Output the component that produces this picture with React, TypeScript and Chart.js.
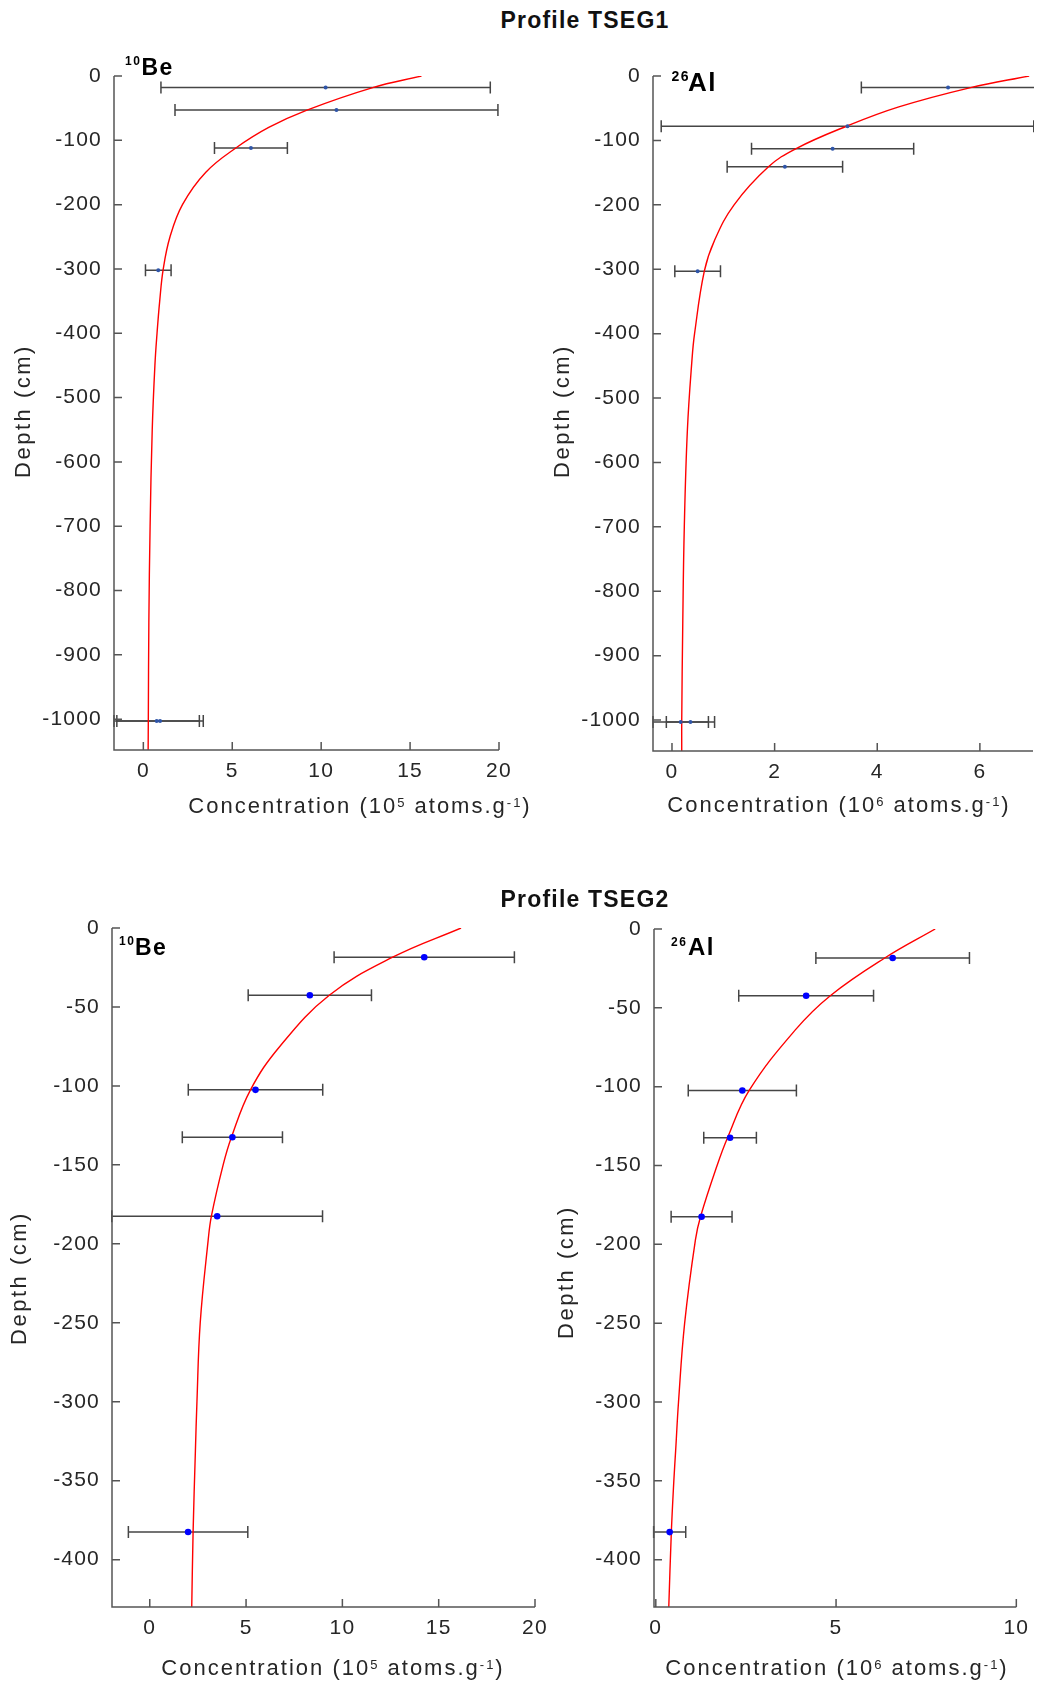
import React, { useEffect, useRef } from 'react';
import { Chart, registerables } from 'chart.js';

Chart.register(...registerables);

// ---------------- DATA ----------------
// Profile TSEG1 - 10Be (10^5 atoms/g)
const TSEG1_BE_DEPTH = [-18, -53, -112, -302, -1003, -1003];
const TSEG1_BE_CONC = [10.25, 10.86, 6.05, 0.84, 0.75, 0.94];
const TSEG1_BE_ERR = [9.26, 9.08, 2.05, 0.72, 2.4, 2.43];
const TSEG1_BE_MODEL_DEPTH = [0, -18, -53, -80, -112, -150, -200, -250, -300, -350, -400, -450, -550, -700, -850, -1000, -1048];
const TSEG1_BE_MODEL_CONC = [15.64, 12.9, 9.2, 7.05, 5.2, 3.5, 2.2, 1.5, 1.12, 0.92, 0.77, 0.65, 0.5, 0.38, 0.31, 0.28, 0.27];

// Profile TSEG1 - 26Al (10^6 atoms/g)
const TSEG1_AL_DEPTH = [-18, -78, -113, -141, -303, -1003, -1003];
const TSEG1_AL_CONC = [5.38, 3.42, 3.13, 2.2, 0.5, 0.17, 0.36];
const TSEG1_AL_ERR = [1.69, 3.63, 1.58, 1.125, 0.445, 0.54, 0.47];
const TSEG1_AL_MODEL_DEPTH = [0, -18, -48, -78, -113, -141, -200, -255, -303, -400, -440, -550, -700, -850, -1000, -1048];
const TSEG1_AL_MODEL_CONC = [6.96, 5.82, 4.42, 3.4, 2.41, 1.88, 1.21, 0.83, 0.63, 0.44, 0.39, 0.3, 0.24, 0.21, 0.19, 0.19];

// Profile TSEG2 - 10Be (10^5 atoms/g)
const TSEG2_BE_DEPTH = [-18.5, -42.6, -102.5, -132.5, -182.5, -382.5];
const TSEG2_BE_CONC = [14.25, 8.31, 5.49, 4.29, 3.5, 1.99];
const TSEG2_BE_ERR = [4.68, 3.2, 3.49, 2.6, 5.47, 3.1];
const TSEG2_BE_MODEL_DEPTH = [0, -18.5, -42.6, -75, -102.5, -132.5, -150, -182.5, -198, -250, -300, -331, -382.5, -430];
const TSEG2_BE_MODEL_CONC = [16.16, 12.61, 9.32, 6.75, 5.23, 4.24, 3.81, 3.2, 3.03, 2.62, 2.45, 2.37, 2.25, 2.18];

// Profile TSEG2 - 26Al (10^6 atoms/g)
const TSEG2_AL_DEPTH = [-18.4, -42.3, -102.4, -132.4, -182.5, -382.5];
const TSEG2_AL_CONC = [6.57, 4.17, 2.4, 2.06, 1.27, 0.385];
const TSEG2_AL_ERR = [2.13, 1.87, 1.5, 0.73, 0.845, 0.445];
const TSEG2_AL_MODEL_DEPTH = [0, -18.4, -42.3, -64, -102.4, -132.4, -150, -182.5, -197, -250, -300, -331, -350, -383, -430];
const TSEG2_AL_MODEL_CONC = [7.75, 6.35, 4.84, 3.87, 2.59, 1.99, 1.7, 1.24, 1.1, 0.8, 0.63, 0.55, 0.5, 0.43, 0.36];

// Tick labels
const TSEG1_DEPTH_TICKS = [0, -100, -200, -300, -400, -500, -600, -700, -800, -900, -1000];
const TSEG2_DEPTH_TICKS = [0, -50, -100, -150, -200, -250, -300, -350, -400];
const BE_CONC_TICKS = [0, 5, 10, 15, 20];
const TSEG1_AL_CONC_TICKS = [0, 2, 4, 6];
const TSEG2_AL_CONC_TICKS = [0, 5, 10];

// ---------------- LAYOUT / STYLE ----------------
const FONT = "'Liberation Sans', Arial, Helvetica, sans-serif";
const TEXT = '#262626';
const Y_W = 80;
const X_H = 40;

type Panel = {
  canvas: { x: number; y: number; w: number; h: number };
  area: { l: number; t: number; r: number; b: number };
  xMin: number; xMax: number; yMin: number; yMax: number;
  xTicks: number[]; yTicks: number[];
  depth: number[]; conc: number[]; err: number[];
  modelDepth: number[]; modelConc: number[];
  pointRadius: number; pointColor: string;
  sup: string; main: string;
  supX: number; supY: number; supSize: number;
  mainX: number; mainY: number; mainSize: number;
  exp: string; xTitleX: number; xTitleY: number;
  yTitleX: number; yTitleY: number;
};

const PANELS: Panel[] = [
  {
    canvas: { x: 0, y: 40, w: 560, h: 800 },
    area: { l: 114, t: 76, r: 499, b: 750 },
    xMin: -1.65, xMax: 20, yMin: -1048, yMax: 0,
    xTicks: BE_CONC_TICKS, yTicks: TSEG1_DEPTH_TICKS,
    depth: TSEG1_BE_DEPTH, conc: TSEG1_BE_CONC, err: TSEG1_BE_ERR,
    modelDepth: TSEG1_BE_MODEL_DEPTH, modelConc: TSEG1_BE_MODEL_CONC,
    pointRadius: 2, pointColor: '#2f55a8',
    sup: '10', main: 'Be', supX: 125, supY: 65, supSize: 12, mainX: 141.5, mainY: 75, mainSize: 23,
    exp: '5', xTitleX: 360, xTitleY: 813, yTitleX: 23.5, yTitleY: 411,
  },
  {
    canvas: { x: 530, y: 40, w: 507, h: 800 },
    area: { l: 653, t: 76, r: 1036, b: 751 },
    xMin: -0.37, xMax: 7.035, yMin: -1048, yMax: 0,
    xTicks: TSEG1_AL_CONC_TICKS, yTicks: TSEG1_DEPTH_TICKS,
    depth: TSEG1_AL_DEPTH, conc: TSEG1_AL_CONC, err: TSEG1_AL_ERR,
    modelDepth: TSEG1_AL_MODEL_DEPTH, modelConc: TSEG1_AL_MODEL_CONC,
    pointRadius: 2, pointColor: '#2f55a8',
    sup: '26', main: 'Al', supX: 671.5, supY: 80.5, supSize: 14, mainX: 688, mainY: 90.5, mainSize: 26,
    exp: '6', xTitleX: 839, xTitleY: 812, yTitleX: 562.5, yTitleY: 411,
  },
  {
    canvas: { x: 0, y: 860, w: 560, h: 823 },
    area: { l: 112, t: 928, r: 535, b: 1607 },
    xMin: -1.96, xMax: 20, yMin: -430, yMax: 0,
    xTicks: BE_CONC_TICKS, yTicks: TSEG2_DEPTH_TICKS,
    depth: TSEG2_BE_DEPTH, conc: TSEG2_BE_CONC, err: TSEG2_BE_ERR,
    modelDepth: TSEG2_BE_MODEL_DEPTH, modelConc: TSEG2_BE_MODEL_CONC,
    pointRadius: 3.3, pointColor: '#0000ff',
    sup: '10', main: 'Be', supX: 119, supY: 945, supSize: 12, mainX: 135, mainY: 955, mainSize: 23,
    exp: '5', xTitleX: 333, xTitleY: 1675, yTitleX: 19.5, yTitleY: 1278,
  },
  {
    canvas: { x: 530, y: 860, w: 507, h: 823 },
    area: { l: 654, t: 929, r: 1019, b: 1607 },
    xMin: -0.05, xMax: 10, yMin: -430, yMax: 0,
    xTicks: TSEG2_AL_CONC_TICKS, yTicks: TSEG2_DEPTH_TICKS,
    depth: TSEG2_AL_DEPTH, conc: TSEG2_AL_CONC, err: TSEG2_AL_ERR,
    modelDepth: TSEG2_AL_MODEL_DEPTH, modelConc: TSEG2_AL_MODEL_CONC,
    pointRadius: 3.3, pointColor: '#0000ff',
    sup: '26', main: 'Al', supX: 671, supY: 945.5, supSize: 12, mainX: 688, mainY: 955, mainSize: 24,
    exp: '6', xTitleX: 837, xTitleY: 1675, yTitleX: 567, yTitleY: 1272,
  },
];

type Run = { text: string; size: number; bold?: boolean; dy: number };

function runsWidth(ctx: CanvasRenderingContext2D, runs: Run[]) {
  let w = 0;
  for (const r of runs) {
    ctx.font = `${r.bold ? 'bold ' : ''}${r.size}px ${FONT}`;
    w += ctx.measureText(r.text).width;
  }
  return w;
}

function drawRuns(ctx: CanvasRenderingContext2D, runs: Run[], x: number, y: number) {
  let cx = x;
  for (const r of runs) {
    ctx.font = `${r.bold ? 'bold ' : ''}${r.size}px ${FONT}`;
    ctx.fillText(r.text, cx, y + r.dy);
    cx += ctx.measureText(r.text).width;
  }
}

function makePlugin(p: Panel) {
  const ox = p.canvas.x;
  const oy = p.canvas.y;
  return {
    id: 'profileDecor',
    beforeDraw(chart: any) {
      chart.ctx.letterSpacing = '1.2px';
    },
    beforeDatasetsDraw(chart: any) {
      const { ctx, chartArea: a, scales } = chart;
      const xs = scales.x;
      const ys = scales.y;
      ctx.save();
      ctx.beginPath();
      ctx.rect(a.left - 2, a.top - 8, a.right - a.left + 3, a.bottom - a.top + 10);
      ctx.clip();
      ctx.strokeStyle = '#454545';
      ctx.lineWidth = 1.5;
      p.depth.forEach((d, i) => {
        const y = ys.getPixelForValue(d);
        const x1 = xs.getPixelForValue(p.conc[i] - p.err[i]);
        const x2 = xs.getPixelForValue(p.conc[i] + p.err[i]);
        ctx.beginPath();
        ctx.moveTo(x1, y);
        ctx.lineTo(x2, y);
        ctx.moveTo(x1, y - 6);
        ctx.lineTo(x1, y + 6);
        ctx.moveTo(x2, y - 6);
        ctx.lineTo(x2, y + 6);
        ctx.stroke();
      });
      ctx.restore();
    },
    afterDraw(chart: any) {
      const { ctx, chartArea: a, scales } = chart;
      ctx.save();
      // axes lines
      ctx.strokeStyle = '#555555';
      ctx.lineWidth = 1.5;
      ctx.beginPath();
      ctx.moveTo(a.left, a.top);
      ctx.lineTo(a.left, a.bottom);
      ctx.lineTo(a.right, a.bottom);
      for (const v of p.yTicks) {
        const y = scales.y.getPixelForValue(v);
        ctx.moveTo(a.left, y);
        ctx.lineTo(a.left + 8, y);
      }
      for (const v of p.xTicks) {
        const x = scales.x.getPixelForValue(v);
        ctx.moveTo(x, a.bottom);
        ctx.lineTo(x, a.bottom - 8);
      }
      ctx.stroke();

      // isotope label
      ctx.fillStyle = '#000';
      ctx.textAlign = 'left';
      ctx.textBaseline = 'alphabetic';
      ctx.letterSpacing = '1.5px';
      ctx.font = `bold ${p.supSize}px ${FONT}`;
      ctx.fillText(p.sup, p.supX - ox, p.supY - oy);
      ctx.font = `bold ${p.mainSize}px ${FONT}`;
      ctx.fillText(p.main, p.mainX - ox, p.mainY - oy);

      // x axis title
      ctx.fillStyle = TEXT;
      ctx.letterSpacing = '2px';
      const runs: Run[] = [
        { text: 'Concentration (10', size: 22, dy: 0 },
        { text: p.exp, size: 13, dy: -6.5 },
        { text: ' atoms.g', size: 22, dy: 0 },
        { text: '-1', size: 13, dy: -6.5 },
        { text: ')', size: 22, dy: 0 },
      ];
      const w = runsWidth(ctx, runs);
      drawRuns(ctx, runs, p.xTitleX - ox - w / 2, p.xTitleY - oy);

      // y axis title
      ctx.letterSpacing = '2.5px';
      ctx.font = `22px ${FONT}`;
      ctx.translate(p.yTitleX - ox, p.yTitleY - oy);
      ctx.rotate(-Math.PI / 2);
      ctx.textAlign = 'center';
      ctx.textBaseline = 'middle';
      ctx.fillText('Depth (cm)', 0, 0);
      ctx.restore();
      ctx.letterSpacing = '0px';
    },
  };
}

function buildConfig(p: Panel): any {
  const tickFont = { family: FONT, size: 21 };
  return {
    type: 'scatter',
    data: {
      datasets: [
        {
          label: 'Measured',
          data: p.depth.map((d, i) => ({ x: p.conc[i], y: d })),
          showLine: false,
          pointRadius: p.pointRadius,
          pointBackgroundColor: p.pointColor,
          pointBorderColor: p.pointColor,
          pointBorderWidth: 0,
          borderWidth: 0,
        },
        {
          type: 'line',
          label: 'Model',
          data: p.modelDepth.map((d, i) => ({ x: p.modelConc[i], y: d })),
          borderColor: '#ff0000',
          borderWidth: 1.4,
          pointRadius: 0,
          tension: 0.4,
          fill: false,
        },
      ],
    },
    options: {
      responsive: false,
      animation: false,
      devicePixelRatio: 1,
      events: [],
      layout: {
        padding: {
          left: p.area.l - p.canvas.x - Y_W,
          top: p.area.t - p.canvas.y,
          right: p.canvas.x + p.canvas.w - p.area.r,
          bottom: p.canvas.y + p.canvas.h - p.area.b - X_H,
        },
      },
      plugins: { legend: { display: false }, tooltip: { enabled: false } },
      scales: {
        x: {
          type: 'linear',
          position: 'bottom',
          min: p.xMin,
          max: p.xMax,
          afterBuildTicks: (s: any) => {
            s.ticks = p.xTicks.map((v) => ({ value: v }));
          },
          afterFit: (s: any) => {
            s.height = X_H;
          },
          grid: { display: false, drawTicks: false },
          border: { display: false },
          ticks: {
            padding: 9,
            font: tickFont,
            color: TEXT,
            autoSkip: false,
            maxRotation: 0,
            callback: (v: any) => String(v),
          },
        },
        y: {
          type: 'linear',
          position: 'left',
          min: p.yMin,
          max: p.yMax,
          afterBuildTicks: (s: any) => {
            s.ticks = p.yTicks.map((v) => ({ value: v }));
          },
          afterFit: (s: any) => {
            s.width = Y_W;
          },
          grid: { display: false, drawTicks: false },
          border: { display: false },
          ticks: {
            padding: 12,
            font: tickFont,
            color: TEXT,
            autoSkip: false,
            callback: (v: any) => String(v),
          },
        },
      },
    },
    plugins: [makePlugin(p)],
  };
}

function PanelChart({ panel }: { panel: Panel }) {
  const ref = useRef<HTMLCanvasElement>(null);
  useEffect(() => {
    if (!ref.current) return;
    const chart = new Chart(ref.current, buildConfig(panel));
    return () => chart.destroy();
  }, [panel]);
  const c = panel.canvas;
  return (
    <canvas
      ref={ref}
      width={c.w}
      height={c.h}
      style={{ position: 'absolute', left: c.x, top: c.y, width: c.w, height: c.h }}
    />
  );
}

const titleStyle = (top: number): React.CSSProperties => ({
  position: 'absolute',
  left: 385,
  width: 400,
  top,
  textAlign: 'center',
  fontFamily: FONT,
  fontWeight: 'bold',
  fontSize: 23,
  lineHeight: '23px',
  letterSpacing: '1.2px',
  color: '#111',
  zIndex: 2,
});

export default function App() {
  return (
    <div
      style={{
        position: 'absolute',
        left: 0,
        top: 0,
        width: 1037,
        height: 1683,
        background: '#ffffff',
        overflow: 'hidden',
      }}
    >
      {PANELS.map((p, i) => (
        <PanelChart key={i} panel={p} />
      ))}
      <div style={titleStyle(8.7)}>Profile TSEG1</div>
      <div style={titleStyle(887.7)}>Profile TSEG2</div>
    </div>
  );
}
